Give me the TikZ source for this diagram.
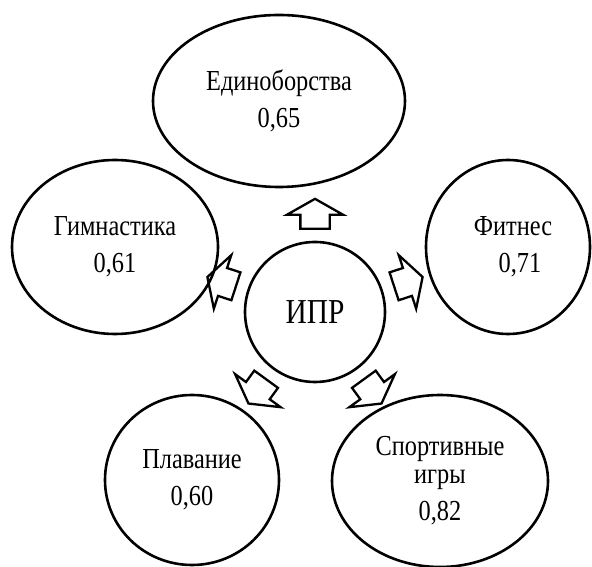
\documentclass[tikz,border=0pt]{standalone}
\usepackage{fontspec}
\setmainfont{Liberation Serif}
\newfontfamily\reffont[FakeStretch=0.84]{Liberation Serif}
\usetikzlibrary{shapes.geometric,shapes.arrows,calc}
\begin{document}
\begin{tikzpicture}[x=1pt,y=1pt,
  field/.style={ellipse,draw,line width=2.6pt,inner sep=0pt,align=center,
    font=\reffont\fontsize{29}{37}\selectfont},
  outarrow/.style={single arrow,draw,line width=2.3pt,inner xsep=0pt,inner ysep=13.5pt,
    minimum height=30pt,minimum width=55pt,single arrow head extend=13.5pt,
    single arrow tip angle=121}]
\useasboundingbox (0,0) rectangle (592,567);
\node[field,minimum width=140pt,minimum height=140pt,font=\reffont\fontsize{35}{37}\selectfont] (ipr) at (315,255) {ИПР};
\node[field,minimum width=252pt,minimum height=172pt] (edin) at (279,466) {Единоборства\\0,65};
\node[field,minimum width=206pt,minimum height=174pt] (gimn) at (115,320) {Гимнастика\\0,61};
\node[field,minimum width=164pt,minimum height=174pt] (fit) at (508,320) {\hspace*{10pt}Фитнес\\\hspace*{24pt}0,71};
\node[field,minimum width=174pt,minimum height=170pt] (plav) at (192,87) {Плавание\\0,60};
\node[field,minimum width=216pt,minimum height=172pt] (sport) at (440,86) {Спортивные\\[-9pt]игры\\0,82};
\foreach \a/\n in {90/a1,162/a2,234/a3,306/a4,18/a5}{
  \node[outarrow,rotate=\a] (\n) at ($(ipr)+(\a:94)$) {};
}
\end{tikzpicture}
\end{document}
